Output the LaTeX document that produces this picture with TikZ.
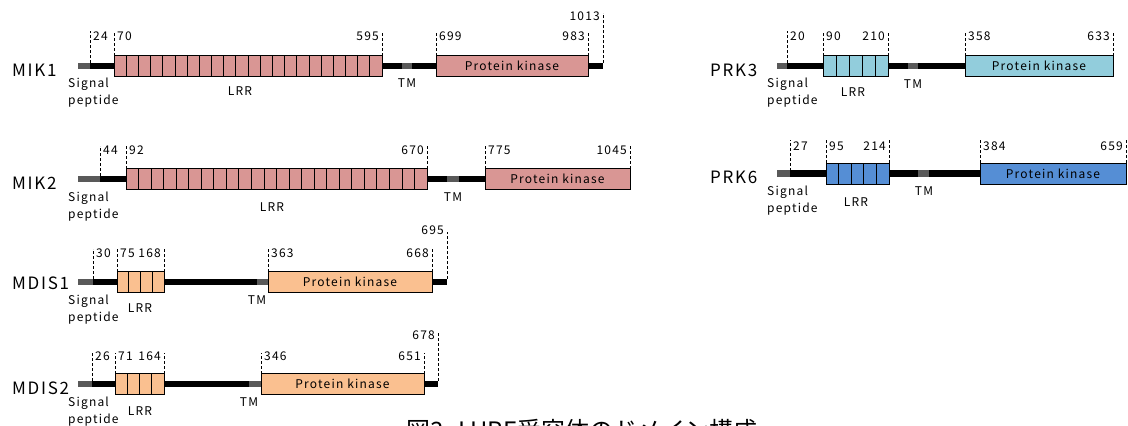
\documentclass[tikz,border=0pt]{standalone}
\usepackage{fontspec}
\newfontfamily\jpfont[LetterSpace=10]{Noto Sans CJK JP}
\newfontfamily\capfont{Noto Sans CJK JP}
\definecolor{mikc}{HTML}{D99694}
\definecolor{mdisc}{HTML}{FAC090}
\definecolor{prkiii}{HTML}{92CDDC}
\definecolor{prkvi}{HTML}{558ED5}
\definecolor{tmgray}{HTML}{595959}

\begin{document}
\begin{tikzpicture}[x=1pt, y=-1pt,
  box/.style={draw, line width=0.8pt, minimum height=21pt, inner sep=0pt, outer sep=0pt,
              anchor=west, font=\jpfont\fontsize{12}{14}\selectfont},
  bb/.style={line width=6.5pt},
  sp/.style={line width=6.5pt, draw=tmgray},
  seg/.style={line width=0.8pt},
  tick/.style={dash pattern=on 3pt off 2pt, line width=0.7pt},
  num/.style={font=\jpfont\fontsize{12}{14}\selectfont, inner sep=1pt},
  lbl/.style={font=\jpfont\fontsize{12}{14}\selectfont, inner sep=0pt, anchor=base},
  sig/.style={font=\jpfont\fontsize{12}{17}\selectfont, inner sep=0pt, align=left, anchor=north west},
  pname/.style={font=\jpfont\fontsize{17}{20}\selectfont, inner sep=0pt, anchor=base west}
]
\useasboundingbox (0,0) rectangle (1128,426);
\clip (0,0) rectangle (1128,426);

% MIK1
\node[pname] (mik1) at (12,76) {MIK1};
\coordinate (mik1n) at (78,66);
\coordinate (mik1sp) at (90,66);
\coordinate (mik1tm) at (407,66);
\coordinate (mik1c) at (603,66);
\draw[bb] (mik1sp) -- (mik1c);
\draw[sp] (mik1n) -- (mik1sp);
\draw[sp] ([xshift=-5pt]mik1tm) -- ([xshift=5pt]mik1tm);
\node[box, fill=mikc, minimum width=268pt] (mik1lrr) at (114,66) {};
\foreach \i in {1,...,21} \draw[seg] (mik1lrr.south west) ++({\i*268/22},0) -- ++(0,-21);
\node[box, fill=mikc, minimum width=152pt] (mik1pk) at (436,66) {Protein kinase};
\draw[tick] (mik1sp) ++(0,-3) -- ++(0,-32);
\draw[tick] (mik1lrr.north west) -- ++(0,-24);
\draw[tick] (mik1lrr.north east) -- ++(0,-24);
\draw[tick] (mik1pk.north west) -- ++(0,-24);
\draw[tick] (mik1pk.north east) -- ++(0,-24);
\draw[tick] (mik1c) ++(0,-3) -- ++(0,-50);
\node[num, anchor=base west] (mik1a) at (92,40) {24};
\node[num, anchor=base west] (mik1b) at (116,40) {70};
\node[num, anchor=base east] (mik1d) at (380,40) {595};
\node[num, anchor=base west] (mik1e) at (438,40) {699};
\node[num, anchor=base east] (mik1f) at (586,40) {983};
\node[num, anchor=base east] (mik1g) at (601,20) {1013};
\node[sig] (mik1s) at (68,78) {Signal\\peptide};
\node[lbl] (mik1l) at (240,95) {LRR};
\node[lbl] (mik1t) at (407,87) {TM};

% MIK2
\node[pname] (mik2) at (12,189) {MIK2};
\coordinate (mik2n) at (78,179);
\coordinate (mik2sp) at (100,179);
\coordinate (mik2tm) at (453,179);
\coordinate (mik2c) at (485,179);
\draw[bb] (mik2sp) -- (mik2c);
\draw[sp] (mik2n) -- (mik2sp);
\draw[sp] ([xshift=-6pt]mik2tm) -- ([xshift=6pt]mik2tm);
\node[box, fill=mikc, minimum width=301pt] (mik2lrr) at (126,179) {};
\foreach \i in {1,...,23} \draw[seg] (mik2lrr.south west) ++({\i*301/24},0) -- ++(0,-21);
\node[box, fill=mikc, minimum width=145pt] (mik2pk) at (485,179) {Protein kinase};
\draw[tick] (mik2sp) ++(0,-3) -- ++(0,-30);
\draw[tick] (mik2lrr.north west) -- ++(0,-23);
\draw[tick] (mik2lrr.north east) -- ++(0,-23);
\draw[tick] (mik2pk.north west) -- ++(0,-23);
\draw[tick] (mik2pk.north east) -- ++(0,-23);
\node[num, anchor=base west] (mik2a) at (102,154) {44};
\node[num, anchor=base west] (mik2b) at (128,154) {92};
\node[num, anchor=base east] (mik2d) at (425,154) {670};
\node[num, anchor=base west] (mik2e) at (487,154) {775};
\node[num, anchor=base east] (mik2f) at (628,154) {1045};
\node[sig] (mik2s) at (68,192) {Signal\\peptide};
\node[lbl] (mik2l) at (272,211) {LRR};
\node[lbl] (mik2t) at (453,201) {TM};

% MDIS1
\node[pname] (mdis1) at (12,289) {MDIS1};
\coordinate (mdis1n) at (78,282);
\coordinate (mdis1sp) at (93,282);
\coordinate (mdis1tm) at (262.5,282);
\coordinate (mdis1c) at (447,282);
\draw[bb] (mdis1sp) -- (mdis1c);
\draw[sp] (mdis1n) -- (mdis1sp);
\draw[sp] ([xshift=-5.5pt]mdis1tm) -- ([xshift=5.5pt]mdis1tm);
\node[box, fill=mdisc, minimum width=47pt] (mdis1lrr) at (117,282) {};
\foreach \i in {1,...,3} \draw[seg] (mdis1lrr.south west) ++({\i*47/4},0) -- ++(0,-21);
\node[box, fill=mdisc, minimum width=164pt] (mdis1pk) at (268,282) {Protein kinase};
\draw[tick] (mdis1sp) ++(0,-3) -- ++(0,-30);
\draw[tick] (mdis1lrr.north west) -- ++(0,-23);
\draw[tick] (mdis1lrr.north east) -- ++(0,-23);
\draw[tick] (mdis1pk.north west) -- ++(0,-23);
\draw[tick] (mdis1pk.north east) -- ++(0,-23);
\draw[tick] (mdis1c) ++(0,-3) -- ++(0,-47);
\node[num, anchor=base west] (mdis1a) at (95,257) {30};
\node[num, anchor=base west] (mdis1b) at (119,257) {75};
\node[num, anchor=base east] (mdis1d) at (162,257) {168};
\node[num, anchor=base west] (mdis1e) at (270,257) {363};
\node[num, anchor=base east] (mdis1f) at (430,257) {668};
\node[num, anchor=base east] (mdis1g) at (445,234) {695};
\node[sig] (mdis1s) at (68,295) {Signal\\peptide};
\node[lbl] (mdis1l) at (140,312) {LRR};
\node[lbl] (mdis1t) at (257,304) {TM};

% MDIS2
\node[pname] (mdis2) at (12,394) {MDIS2};
\coordinate (mdis2n) at (78,384);
\coordinate (mdis2sp) at (92,384);
\coordinate (mdis2tm) at (255,384);
\coordinate (mdis2c) at (438,384);
\draw[bb] (mdis2sp) -- (mdis2c);
\draw[sp] (mdis2n) -- (mdis2sp);
\draw[sp] ([xshift=-6pt]mdis2tm) -- ([xshift=6pt]mdis2tm);
\node[box, fill=mdisc, minimum width=49pt] (mdis2lrr) at (115,384) {};
\foreach \i in {1,...,3} \draw[seg] (mdis2lrr.south west) ++({\i*49/4},0) -- ++(0,-21);
\node[box, fill=mdisc, minimum width=163pt] (mdis2pk) at (261,384) {Protein kinase};
\draw[tick] (mdis2sp) ++(0,-3) -- ++(0,-29);
\draw[tick] (mdis2lrr.north west) -- ++(0,-21);
\draw[tick] (mdis2lrr.north east) -- ++(0,-21);
\draw[tick] (mdis2pk.north west) -- ++(0,-21);
\draw[tick] (mdis2pk.north east) -- ++(0,-21);
\draw[tick] (mdis2c) ++(0,-3) -- ++(0,-48);
\node[num, anchor=base west] (mdis2a) at (94,360) {26};
\node[num, anchor=base west] (mdis2b) at (117,360) {71};
\node[num, anchor=base east] (mdis2d) at (162,360) {164};
\node[num, anchor=base west] (mdis2e) at (263,360) {346};
\node[num, anchor=base east] (mdis2f) at (422,360) {651};
\node[num, anchor=base east] (mdis2g) at (436,339) {678};
\node[sig] (mdis2s) at (68,397) {Signal\\peptide};
\node[lbl] (mdis2l) at (140,415) {LRR};
\node[lbl] (mdis2t) at (249,406) {TM};

% PRK3
\node[pname] (prk3) at (710,76) {PRK3};
\coordinate (prk3n) at (777,66);
\coordinate (prk3sp) at (787,66);
\coordinate (prk3tm) at (913,66);
\coordinate (prk3c) at (965,66);
\draw[bb] (prk3sp) -- (prk3c);
\draw[sp] (prk3n) -- (prk3sp);
\draw[sp] ([xshift=-5pt]prk3tm) -- ([xshift=5pt]prk3tm);
\node[box, fill=prkiii, minimum width=65pt] (prk3lrr) at (823,66) {};
\foreach \i in {1,...,4} \draw[seg] (prk3lrr.south west) ++({\i*65/5},0) -- ++(0,-21);
\node[box, fill=prkiii, minimum width=148pt] (prk3pk) at (965,66) {Protein kinase};
\draw[tick] (prk3sp) ++(0,-3) -- ++(0,-32);
\draw[tick] (prk3lrr.north west) -- ++(0,-24);
\draw[tick] (prk3lrr.north east) -- ++(0,-24);
\draw[tick] (prk3pk.north west) -- ++(0,-24);
\draw[tick] (prk3pk.north east) -- ++(0,-24);
\node[num, anchor=base west] (prk3a) at (789,40) {20};
\node[num, anchor=base west] (prk3b) at (825,40) {90};
\node[num, anchor=base east] (prk3d) at (886,40) {210};
\node[num, anchor=base west] (prk3e) at (967,40) {358};
\node[num, anchor=base east] (prk3f) at (1111,40) {633};
\node[sig] (prk3s) at (767,78) {Signal\\peptide};
\node[lbl] (prk3l) at (853,96) {LRR};
\node[lbl] (prk3t) at (913,88) {TM};

% PRK6
\node[pname] (prk6) at (710,183) {PRK6};
\coordinate (prk6n) at (777,173.5);
\coordinate (prk6sp) at (790,173.5);
\coordinate (prk6tm) at (923.5,173.5);
\coordinate (prk6c) at (980,173.5);
\draw[bb] (prk6sp) -- (prk6c);
\draw[sp] (prk6n) -- (prk6sp);
\draw[sp] ([xshift=-5.5pt]prk6tm) -- ([xshift=5.5pt]prk6tm);
\node[box, fill=prkvi, minimum width=63pt] (prk6lrr) at (826,173.5) {};
\foreach \i in {1,...,4} \draw[seg] (prk6lrr.south west) ++({\i*63/5},0) -- ++(0,-21);
\node[box, fill=prkvi, minimum width=146pt] (prk6pk) at (980,173.5) {Protein kinase};
\draw[tick] (prk6sp) ++(0,-3) -- ++(0,-31);
\draw[tick] (prk6lrr.north west) -- ++(0,-23);
\draw[tick] (prk6lrr.north east) -- ++(0,-23);
\draw[tick] (prk6pk.north west) -- ++(0,-23);
\draw[tick] (prk6pk.north east) -- ++(0,-23);
\node[num, anchor=base west] (prk6a) at (792,150) {27};
\node[num, anchor=base west] (prk6b) at (828,150) {95};
\node[num, anchor=base east] (prk6d) at (887,150) {214};
\node[num, anchor=base west] (prk6e) at (982,150) {384};
\node[num, anchor=base east] (prk6f) at (1124,150) {659};
\node[sig] (prk6s) at (767,186) {Signal\\peptide};
\node[lbl] (prk6l) at (856,206) {LRR};
\node[lbl] (prk6t) at (924,195) {TM};

% caption
\node[font=\capfont\fontsize{24}{28}\selectfont, inner sep=0pt, anchor=base] (cap) at (582,439) {図3\hspace{0.6em}LURE受容体のドメイン構成};
\end{tikzpicture}
\end{document}
